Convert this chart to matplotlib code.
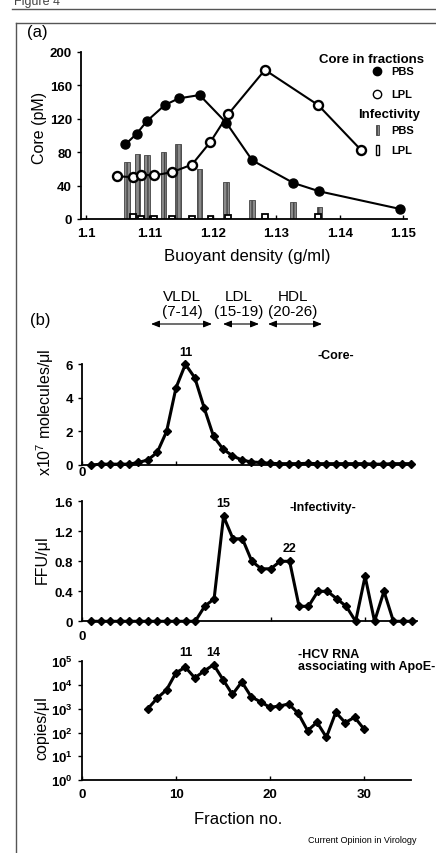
import matplotlib
matplotlib.use("Agg")
import matplotlib.pyplot as plt
from matplotlib.lines import Line2D
from matplotlib.patches import Rectangle, FancyArrowPatch

plt.rcParams['font.family'] = ['Liberation Sans', 'DejaVu Sans']
plt.rcParams['mathtext.fontset'] = 'custom'
plt.rcParams['mathtext.rm'] = 'Liberation Sans'
plt.rcParams['mathtext.bf'] = 'Liberation Sans:bold'
plt.rcParams['mathtext.default'] = 'rm'

# (a) core in fractions vs buoyant density
pbs_dens = [1.1062, 1.1080, 1.1096, 1.1124, 1.1146, 1.1179, 1.1221, 1.1262, 1.1327, 1.1368, 1.1495]
pbs_core = [89, 102, 117, 136, 144, 148, 115, 70, 43, 33, 12]
lpl_dens = [1.1048, 1.1074, 1.1087, 1.1107, 1.1136, 1.1167, 1.1196, 1.1224, 1.1282, 1.1366, 1.1434]
lpl_core = [51, 50, 53, 52, 56, 65, 92, 125, 178, 136, 82]
# infectivity bars
pbs_inf_dens = [1.1064, 1.1081, 1.1096, 1.1122, 1.1145, 1.1179, 1.1221, 1.1262, 1.1326, 1.1368]
pbs_inf = [68, 78, 77, 80, 90, 60, 44, 23, 20, 14]
lpl_inf_dens = [1.1074, 1.1087, 1.1107, 1.1136, 1.1167, 1.1196, 1.1224, 1.1282, 1.1366]
lpl_inf = [6, 3, 3, 3, 3, 3, 5, 6, 6]

# (b) fractions
fractions = list(range(1, 36))
core_b = [0.0, 0.05, 0.05, 0.05, 0.05, 0.15, 0.3, 0.75, 2.0, 4.6, 6.0, 5.2, 3.4, 1.7, 0.95,
          0.55, 0.3, 0.18, 0.15, 0.1, 0.08, 0.08, 0.08, 0.1, 0.08, 0.08, 0.08, 0.08, 0.08, 0.08,
          0.05, 0.05, 0.08, 0.08, 0.08]
infect_b = [0, 0, 0, 0, 0, 0, 0, 0, 0, 0, 0, 0, 0.2, 0.3, 1.4, 1.1, 1.1, 0.8, 0.7, 0.7,
            0.8, 0.8, 0.2, 0.2, 0.4, 0.4, 0.3, 0.2, 0.0, 0.6, 0.0, 0.4, 0.0, 0.0, 0.0]
rna_frac = list(range(7, 31))
rna_b = [1000, 2800, 6300, 33000, 56000, 20000, 39000, 72000, 17000, 4000, 13500, 3200,
         1950, 1150, 1300, 1600, 640, 120, 270, 63, 710, 260, 440, 140]
rna_ticks = [1, 10, 100, 1e3, 1e4, 1e5]
rna_ticklabels = [r'$\mathbf{10^{%d}}$' % i for i in range(6)]

W, H = 436, 854
fig = plt.figure(figsize=(W / 100, H / 100), dpi=100)


def px(x, y):
    return x / W, 1 - y / H


def axes_px(left, top, right, bottom):
    return fig.add_axes([left / W, 1 - bottom / H, (right - left) / W, (bottom - top) / H])


def style(ax):
    for s in ['top', 'right']:
        ax.spines[s].set_visible(False)
    for s in ['left', 'bottom']:
        ax.spines[s].set_linewidth(1.3)
    ax.tick_params(axis='x', direction='in', length=3, width=1)
    ax.tick_params(axis='y', direction='out', length=3, width=1)
    for lab in ax.get_xticklabels() + ax.get_yticklabels():
        lab.set_fontweight('bold')
        lab.set_fontsize(9.5)


# frame
fig.add_artist(Line2D([12 / W, 1], [1 - 10 / H] * 2, color='#555555', lw=1))
fig.add_artist(Line2D([16 / W, 1], [1 - 24 / H] * 2, color='#555555', lw=1))
fig.add_artist(Line2D([16 / W] * 2, [1 - 24 / H, 0], color='#555555', lw=1))
fig.text(14 / W, 1 - 5 / H, 'Figure 4', fontsize=9, color='#444444', va='baseline')

# ---- panel (a)
ax = axes_px(81, 52.5, 407, 220)
bw = 0.0009
ax.bar(pbs_inf_dens, pbs_inf, width=bw, color='#8a8a8a', edgecolor='#444444', lw=0.6,
       hatch='||||', zorder=1)
ax.bar(lpl_inf_dens, lpl_inf, width=bw, color='white', edgecolor='black', lw=1.3, zorder=2)
ax.plot(lpl_dens, lpl_core, color='black', lw=1.5, marker='o', ms=6.5, mfc='white',
        mec='black', mew=1.7, zorder=3)
ax.plot(pbs_dens, pbs_core, color='black', lw=1.5, marker='o', ms=6.5, mfc='black',
        mec='black', zorder=4)
ax.set_xlim(1.0992, 1.1506)
ax.set_ylim(0, 200)
ax.set_xticks([1.10, 1.11, 1.12, 1.13, 1.14, 1.15])
ax.set_xticklabels(['1.1', '1.11', '1.12', '1.13', '1.14', '1.15'])
ax.set_yticks([0, 40, 80, 120, 160, 200])
style(ax)
ax.tick_params(axis='x', pad=6)
fig.text(*px(37, 33), '(a)', fontsize=12, ha='center', va='center')
fig.text(*px(39, 128), 'Core (pM)', fontsize=11.5, rotation=90, ha='center', va='center')
fig.text(*px(247, 256), 'Buoyant density (g/ml)', fontsize=12, ha='center', va='center')

# legend of panel (a)
fig.text(*px(424, 60), 'Core in fractions', fontsize=9.5, fontweight='bold', ha='right', va='center')
fig.add_artist(Line2D([377 / W], [1 - 72 / H], marker='o', ms=6, mfc='black', mec='black'))
fig.text(*px(391, 72), 'PBS', fontsize=8, fontweight='bold', va='center')
fig.add_artist(Line2D([377 / W], [1 - 95 / H], marker='o', ms=6, mfc='white', mec='black', mew=1))
fig.text(*px(391, 95), 'LPL', fontsize=8, fontweight='bold', va='center')
fig.text(*px(420, 115), 'Infectivity', fontsize=9.5, fontweight='bold', ha='right', va='center')
fig.add_artist(Rectangle(px(376, 136), 3 / W, 10 / H, transform=fig.transFigure,
                         facecolor='#8a8a8a', edgecolor='#444444', lw=0.6, hatch='||||'))
fig.text(*px(391, 131), 'PBS', fontsize=8, fontweight='bold', va='center')
fig.add_artist(Rectangle(px(376, 156), 3 / W, 10 / H, transform=fig.transFigure,
                         facecolor='white', edgecolor='black', lw=1))
fig.text(*px(391, 151), 'LPL', fontsize=8, fontweight='bold', va='center')

# ---- panel (b)
fig.text(*px(40, 321), '(b)', fontsize=12, ha='center', va='center')
lk = dict(fontsize=11, ha='center', va='center')
fig.text(*px(182, 297), 'VLDL', **lk)
fig.text(*px(182, 312), '(7-14)', **lk)
fig.text(*px(239, 297), 'LDL', **lk)
fig.text(*px(239, 312), '(15-19)', **lk)
fig.text(*px(293, 297), 'HDL', **lk)
fig.text(*px(293, 312), '(20-26)', **lk)
for x0, x1 in [(151, 212), (223, 259), (268, 322)]:
    fig.add_artist(FancyArrowPatch(px(x0, 325), px(x1, 325), transform=fig.transFigure,
                                   arrowstyle='<|-|>,head_length=0.5,head_width=0.2',
                                   mutation_scale=10, color='black', lw=0.8,
                                   shrinkA=0, shrinkB=0))

mk = dict(color='black', lw=2.2, marker='D', ms=3.6, mfc='black', mec='black')

ax1 = axes_px(82, 365.3, 411, 466)
ax1.plot(fractions, core_b, clip_on=False, **mk)
ax1.set_xlim(0, 35)
ax1.set_ylim(0, 6)
ax1.set_yticks([0, 2, 4, 6])
ax1.set_xticks([0, 10, 20, 30])
ax1.set_xticklabels(['0', '', '', ''])
style(ax1)
ax1.tick_params(axis='x', pad=1)
ax1.text(11, 6.35, '11', fontsize=9, fontweight='bold', ha='center', va='bottom')
fig.text(*px(336, 356), '-Core-', fontsize=9, fontweight='bold', ha='center', va='center')
fig.text(*px(45, 412), 'x10$^{7}$ molecules/\u03bcl', fontsize=11.5, rotation=90,
         ha='center', va='center')

ax2 = axes_px(82, 502.3, 417, 622.3)
ax2.plot(fractions, infect_b, clip_on=False, **mk)
ax2.set_xlim(0, 35.5)
ax2.set_ylim(0, 1.6)
ax2.set_yticks([0, 0.4, 0.8, 1.2, 1.6])
ax2.set_yticklabels(['0', '0.4', '0.8', '1.2', '1.6'])
ax2.set_xticks([0, 10, 20, 30])
ax2.set_xticklabels(['0', '', '', ''])
style(ax2)
ax2.tick_params(axis='x', pad=6)
ax2.text(15, 1.5, '15', fontsize=9, fontweight='bold', ha='center', va='bottom')
ax2.text(22, 0.9, '22', fontsize=9, fontweight='bold', ha='center', va='bottom')
fig.text(*px(323, 508), '-Infectivity-', fontsize=9, fontweight='bold', ha='center', va='center')
fig.text(*px(42, 560), 'FFU/\u03bcl', fontsize=11.5, rotation=90, ha='center', va='center')

ax3 = axes_px(82, 662.3, 411, 781)
ax3.plot(rna_frac, rna_b, clip_on=False, **mk)
ax3.set_yscale('log')
ax3.set_xlim(0, 35)
ax3.set_ylim(1, 1e5)
ax3.set_yticks(rna_ticks)
ax3.set_yticklabels(rna_ticklabels)
ax3.minorticks_off()
ax3.set_xticks([0, 10, 20, 30])
style(ax3)
ax3.tick_params(axis='x', pad=6)
ax3.text(11, 1.4e5, '11', fontsize=9, fontweight='bold', ha='center', va='bottom')
ax3.text(14, 1.4e5, '14', fontsize=9, fontweight='bold', ha='center', va='bottom')
fig.text(*px(298, 661), '-HCV RNA\nassociating with ApoE-', fontsize=9, fontweight='bold',
         ha='left', va='center', linespacing=1.0)
fig.text(*px(42, 728), 'copies/\u03bcl', fontsize=11.5, rotation=90, ha='center', va='center')
fig.text(*px(238, 820), 'Fraction no.', fontsize=12, ha='center', va='center')
fig.text(*px(308, 841), 'Current Opinion in Virology', fontsize=6.5, ha='left', va='center')

fig.savefig('out.png', dpi=100)
